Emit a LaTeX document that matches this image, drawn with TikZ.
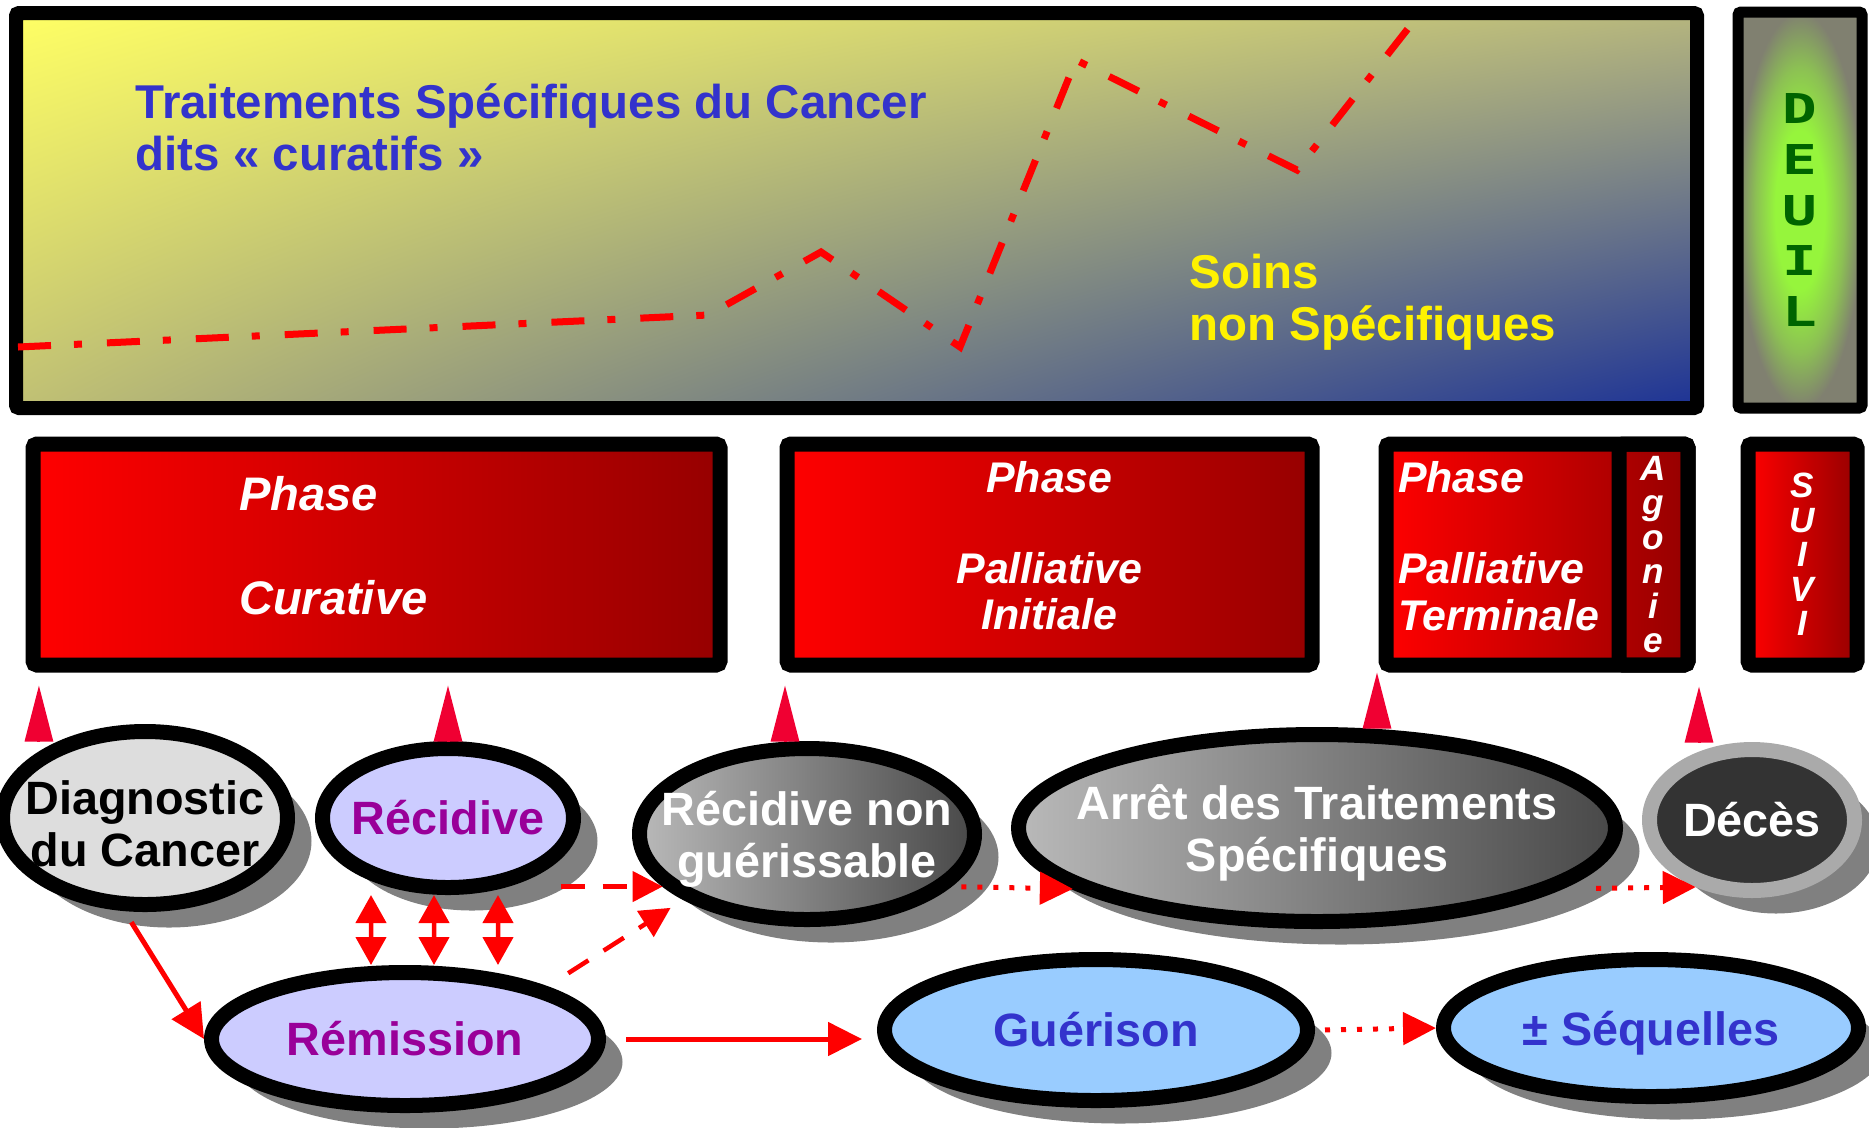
\documentclass[tikz,border=0pt]{standalone}
\usepackage{fontspec}
\setmainfont{Liberation Sans}
\newfontfamily\deuilfont[FakeStretch=1.4]{DejaVu Sans Mono}
\usetikzlibrary{shapes.geometric,shadows,shadings,arrows.meta}

\definecolor{topyellow}{RGB}{255,255,100}
\definecolor{topkhaki}{RGB}{182,182,126}
\definecolor{topolive}{RGB}{192,192,116}
\definecolor{topblue}{RGB}{28,50,150}
\definecolor{textblue}{RGB}{51,51,204}
\definecolor{textpurple}{RGB}{153,0,153}
\definecolor{boxred}{RGB}{255,0,0}
\definecolor{boxdark}{RGB}{150,0,0}
\definecolor{tipred}{RGB}{240,0,50}
\definecolor{deuilgrey}{RGB}{128,128,112}
\definecolor{deuilgreen}{RGB}{150,245,60}
\definecolor{deuiltext}{RGB}{0,100,0}
\definecolor{lavender}{RGB}{204,204,255}
\definecolor{skyblue}{RGB}{153,204,255}
\definecolor{lightgrey}{RGB}{221,221,221}
\definecolor{shadelight}{RGB}{185,185,185}
\definecolor{shadedark}{RGB}{72,72,72}
\definecolor{ringgrey}{RGB}{170,170,170}
\definecolor{decesfill}{RGB}{51,51,51}
\definecolor{shadowgrey}{RGB}{128,128,128}

\pgfdeclareradialshading{deuilglow}{\pgfpoint{0bp}{0bp}}{color(0bp)=(deuilgreen); color(10bp)=(deuilgreen); color(18bp)=(deuilgreen!55!deuilgrey); color(25bp)=(deuilgrey); color(50bp)=(deuilgrey)}

\tikzstyle{topbox} = [rectangle, rounded corners=0.3mm, draw=black, line width=1.4mm, minimum width=168.1mm, minimum height=39.5mm, upper left=topyellow, upper right=topkhaki, lower left=topolive, lower right=topblue]
\tikzstyle{deuilbox} = [rectangle, rounded corners=0.3mm, draw=black, line width=1.1mm, minimum width=12.4mm, minimum height=39.6mm, shade, shading=deuilglow, text=deuiltext, align=center, font=\deuilfont\bfseries\fontsize{11.7}{14.5}\selectfont]
\tikzstyle{toptext} = [align=left, inner sep=0pt, font=\bfseries\fontsize{13.5}{14.7}\selectfont]
\tikzstyle{phase} = [rectangle, rounded corners=0.4mm, draw=black, line width=1.5mm, minimum height=22.1mm, inner xsep=0pt, left color=boxred, right color=boxdark, text=white]
\tikzstyle{letters} = [align=center, text=white, font=\bfseries\itshape\fontsize{10}{9.8}\selectfont]
\tikzstyle{agoniebox} = [rectangle, rounded corners=0.4mm, draw=black, line width=1.5mm, minimum height=22.1mm, minimum width=6.9mm, inner xsep=0pt, letters]
\tikzstyle{event} = [ellipse, draw=black, line width=1.5mm, inner xsep=-10mm, inner ysep=0pt, align=center, font=\bfseries\fontsize{13.3}{14.8}\selectfont, drop shadow={shadow xshift=2.4mm, shadow yshift=-2.3mm, fill=shadowgrey, opacity=1}]
\tikzstyle{chartline} = [red, line width=0.7mm, dash pattern=on 3.3mm off 2.3mm on 0.8mm off 2.5mm]
\tikzstyle{uptip} = [tipred, line width=0.3mm, -{Triangle[length=5.6mm,width=2.8mm]}]
\tikzstyle{arrow} = [red, line width=0.5mm, -{Triangle[length=3.4mm,width=3.3mm]}]
\tikzstyle{dblarrow} = [red, line width=0.45mm, {Triangle[length=2.8mm,width=3mm]}-{Triangle[length=2.8mm,width=3mm]}]
\tikzstyle{dasharrow} = [red, line width=0.45mm, dash pattern=on 2.4mm off 1.8mm, -{Triangle[length=3mm,width=3mm]}]
\tikzstyle{dotarrow} = [red, line width=0.5mm, dash pattern=on 0.5mm off 1.1mm, -{Triangle[length=3.3mm,width=3.2mm]}]

\begin{document}
\begin{tikzpicture}[x=0.1mm, y=-0.1mm]
        \useasboundingbox (0,0) rectangle (1869,1127);

        \node (soinsbox) [topbox] at (856.5,210.5) {};
        \node (deuil) [deuilbox] at (1800,210) {D\\E\\U\\I\\L};
        \draw [chartline] (18,347) -- (708,315) -- (821,252) -- (960,347) -- (1076,60) -- (1297,170) -- (1410,26);
        \node (curatifs) [toptext, text=textblue, anchor=base west] at (135,170) {Traitements Spécifiques du Cancer\\dits « curatifs »};
        \node (soins) [toptext, text=yellow, anchor=base west] at (1189,340) {Soins\\non Spécifiques};

        \node (curative) [phase, minimum width=68.7mm, text width=27.5mm, align=left, text depth=12.2mm, font=\bfseries\itshape\fontsize{13.4}{13}\selectfont] at (376.5,554.5) {Phase\\[16.5pt]Curative};
        \node (initiale) [phase, minimum width=52.5mm, align=center, text depth=1.9mm, font=\bfseries\itshape\fontsize{12.2}{13}\selectfont] at (1049.5,554.5) {Phase\\[13pt]Palliative\\Initiale};
        \node (terminale) [phase, minimum width=30.2mm, text width=27.8mm, align=left, text depth=15.6mm, font=\bfseries\itshape\fontsize{12.2}{13.5}\selectfont] at (1537,554.5) {Phase\\[12.5pt]Palliative\\Terminale};
        \node (agonie) [agoniebox, anchor=north east] at (terminale.north east) {A\\g\\o\\n\\i\\e};
        \node (suivi) [phase, letters, minimum width=10.9mm] at (1802.5,554.5) {S\\U\\I\\V\\I};

        \node (diag) [event, fill=lightgrey, text height=9.8mm, minimum width=28.5mm, minimum height=17.3mm] at (145,818) {Diagnostic\\du Cancer};
        \node (recid) [event, fill=lavender, text=textpurple, minimum width=25.1mm, minimum height=13.9mm] at (448,818) {Récidive};
        \node (nonguer) [event, left color=shadelight, right color=shadedark, text=white, text depth=0pt, minimum width=33.5mm, minimum height=17.1mm] at (807,834) {Récidive non\\guérissable};
        \node (arret) [event, left color=shadelight, right color=shadedark, text=white, text depth=0pt, minimum width=59.7mm, minimum height=18.7mm] at (1317,828) {Arrêt des Traitements\\Spécifiques};
        \node (deces) [event, draw=ringgrey, fill=decesfill, text=white, minimum width=20.5mm, minimum height=14.1mm] at (1752,820) {Décès};
        \node (remis) [event, fill=lavender, text=textpurple, minimum width=38.7mm, minimum height=13.3mm] at (405,1039) {Rémission};
        \node (gueri) [event, fill=skyblue, text=textblue, minimum width=42.3mm, minimum height=14.1mm] at (1096,1030) {Guérison};
        \node (seq) [event, fill=skyblue, text=textblue, text depth=0pt, minimum width=41.5mm, minimum height=13.7mm] at (1651,1028) {± Séquelles};

        \coordinate (diagtop) at ([yshift=1mm]diag.north west);
        \coordinate (nonguertop) at ([xshift=-2.2mm]nonguer.north);
        \coordinate (arrettop) at ([xshift=6mm]arret.north);
        \coordinate (decestop) at ([xshift=-5.3mm]deces.north);
        \coordinate (diagfoot) at ([xshift=-2mm]diag.south);

        \draw [uptip, shorten >=1.3mm] (diagtop) -- (diagtop |- curative.south);
        \draw [uptip, shorten >=1.3mm] (recid.north) -- (recid.north |- curative.south);
        \draw [uptip, shorten >=1.3mm] (nonguertop) -- (nonguertop |- initiale.south);
        \draw [uptip] (arrettop) -- (arrettop |- terminale.south);
        \draw [uptip, shorten >=1.4mm] (decestop) -- (decestop |- suivi.south);

        \draw [arrow, shorten <=1.2mm] (diagfoot) -- (remis.west);
        \foreach \a/\b in {-7.7/-3.4, -1.4/2.9, 5/9.3}
            \draw [dblarrow] ([xshift=\a mm]recid.south) -- ([xshift=\b mm]remis.north);
        \draw [dasharrow] (recid.-20 |- nonguer.200) -- (nonguer.200);
        \draw [dasharrow, shorten <=2.5mm, shorten >=1.5mm] (remis.north east) -- (nonguer.south west);
        \draw [arrow, shorten <=2mm, shorten >=1.5mm] (remis.east) -- (remis.east -| gueri.west);
        \draw [dotarrow, shorten <=1mm] (nonguer.-20) -- (arret.194);
        \draw [dotarrow, shorten <=3.5mm] (arret.-14) -- (deces.230);
        \draw [dotarrow, shorten <=1mm] (gueri.east) -- (seq.west);
    \end{tikzpicture}
\end{document}
